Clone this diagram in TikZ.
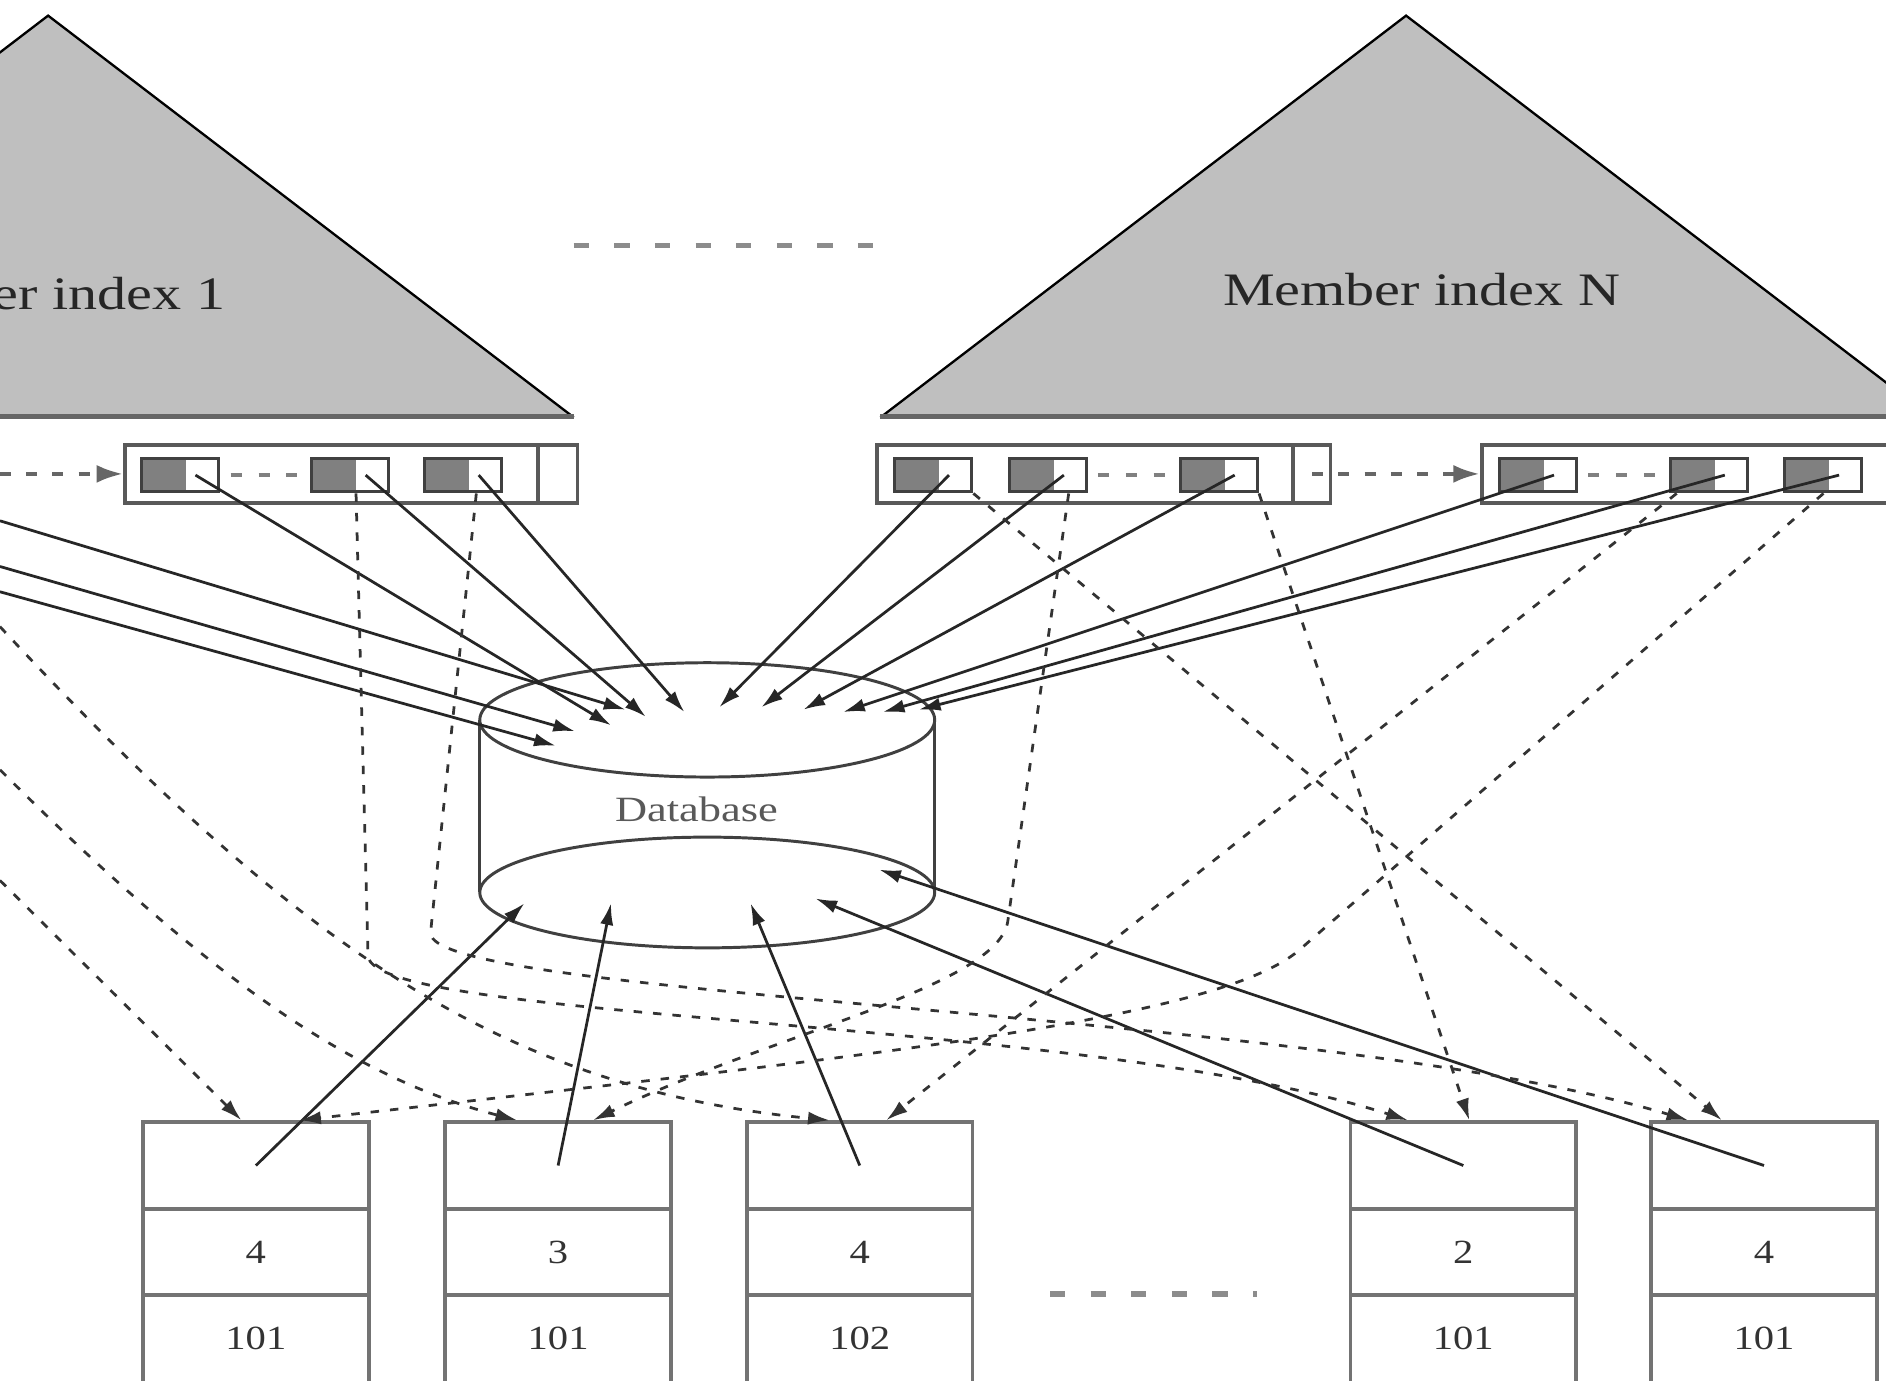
\documentclass[tikz,border=0pt]{standalone}
\usepackage{graphicx}
\usepackage{fontspec}
\setmainfont{Liberation Serif}
\usetikzlibrary{arrows.meta}
\begin{document}
\begin{tikzpicture}[x=0.01cm,y=-0.01cm,
  trifill/.style={fill=black!25},
  triedge/.style={draw=black, line width=0.55pt, line join=miter},
  tribase/.style={draw=black!60, line width=1.1pt},
  sepdash/.style={draw=black!45, line width=1.3pt, dash pattern=on 3.6pt off 6pt},
  bucket/.style={draw=black!65, line width=0.9pt, fill=white, inner sep=0pt, minimum height=0.48cm},
  bucketline/.style={draw=black!65, line width=0.9pt},
  cell/.style={draw=black!75, line width=0.7pt, minimum width=0.64cm, minimum height=0.28cm, inner sep=0pt,
    path picture={\fill[black!50] (path picture bounding box.south west) rectangle ([xshift=-0.27cm]path picture bounding box.north east);}},
  innerdash/.style={draw=black!50, line width=1pt, dash pattern=on 2.6pt off 4pt},
  chain/.style={draw=black!60, line width=1pt, dash pattern=on 2.6pt off 3.6pt, -{Latex[length=2.2mm,width=1.5mm]}},
  rec/.style={draw=black!55, line width=0.9pt, minimum width=1.875cm, minimum height=0.72cm, inner sep=0pt},
  digit/.style={font=\fontsize{8}{9}\selectfont, text=black!80, inner sep=0pt},
  bigtxt/.style={font=\fontsize{11}{13}\selectfont, text=black!85, inner sep=0pt},
  dbtxt/.style={font=\fontsize{8.4}{10}\selectfont, text=black!65, inner sep=0pt},
  dbline/.style={draw=black!75, line width=0.7pt},
  ptr/.style={draw=black!85, line width=0.65pt, -{Latex[length=1.8mm,width=1.1mm]}},
  dptr/.style={draw=black!80, line width=0.65pt, dash pattern=on 2pt off 2.6pt, -{Latex[length=1.8mm,width=1.1mm]}}
]
\useasboundingbox (0,0) rectangle (1568,1148);
\fill[white] (0,0) rectangle (1568,1148);
\begin{scope}
\clip (0,0) rectangle (1568,1148);

% ---------- index triangles ----------
\path[trifill] (-397,347) -- (40,13) -- (477,347) -- cycle;
\draw[triedge] (-397,347) -- (40,13) -- (477,347);
\draw[tribase] (-397,346) -- (477,346);
\path[trifill] (732,347) -- (1169,13) -- (1606,347) -- cycle;
\draw[triedge] (732,347) -- (1169,13) -- (1606,347);
\draw[tribase] (732,346) -- (1606,346);
\node[bigtxt, anchor=east] (mi1) at (188,244) {\scalebox{1.25}[1]{Member index 1}};
\node[bigtxt] (miN) at (1182,241) {\scalebox{1.25}[1]{Member index N}};
\draw[sepdash] (477,204) -- (727,204);

% ---------- leaf buckets ----------
\node[bucket, minimum width=3.76cm] (LB) at (292,394) {};
\draw[bucketline] (447,370) -- (447,418);
\node[bucket, minimum width=3.77cm] (MB) at (917.5,394) {};
\draw[bucketline] (1075,370) -- (1075,418);
\node[bucket, minimum width=3.88cm] (RB) at (1426,394) {};

\foreach \n/\x in {L1/149.5, L2/291, L3/385, M1/776, M2/871.5, M3/1013.5, R1/1279, R2/1421, R3/1516}
  \node[cell] (\n) at (\x,395) {};

\draw[innerdash] ([xshift=0.09cm]L1.east) -- ([xshift=-0.07cm]L2.west);
\draw[innerdash] ([xshift=0.08cm]M2.east) -- ([xshift=-0.07cm]M3.west);
\draw[innerdash] ([xshift=0.08cm]R1.east) -- ([xshift=-0.07cm]R2.west);

\coordinate (inL) at (0,394);
\coordinate (MBnext) at (1091,394);
\draw[chain] (inL) -- (LB.west);
\draw[chain] (MBnext) -- (RB.west);

% ---------- database ----------
\draw[dbline] (399,598.5) -- (399,742);
\draw[dbline] (777,598.5) -- (777,742);
\draw[dbline] (588,598.5) ellipse [x radius=1.89cm, y radius=0.475cm];
\draw[dbline] (588,742) ellipse [x radius=1.89cm, y radius=0.46cm];
\node[dbtxt] (db) at (579,673) {\scalebox{1.25}[1]{Database}};

% ---------- records ----------
\foreach \n/\x/\a/\b in {1/212.75/4/101, 2/464/3/101, 3/714.8/4/102, 4/1216.6/2/101, 5/1466.6/4/101} {
  \node[rec] (B\n a) at (\x,969) {};
  \node[rec] (B\n b) at (\x,1041) {};
  \node[digit] (B\n d) at (\x,1041) {\scalebox{1.2}[1]{\a}};
  \node[rec, minimum height=0.9cm] (B\n c) at (\x,1122) {};
  \node[digit] (B\n t) at (\x,1113) {\scalebox{1.2}[1]{\b}};
}
\draw[sepdash] (873,1076) -- (1045,1076);

% ---------- arrow tips in the database ----------
\coordinate (tO1) at (520,590);
\coordinate (tO2) at (478,608);
\coordinate (tO3) at (462,620);
\coordinate (tL1) at (508,603);
\coordinate (tL2) at (537,596);
\coordinate (tL3) at (569,592);
\coordinate (tM1) at (598,588);
\coordinate (tM2) at (633,588);
\coordinate (tM3) at (668,590);
\coordinate (tR1) at (701,592);
\coordinate (tR2) at (734,592);
\coordinate (tR3) at (764,590);
\coordinate (tb1) at (436,751);
\coordinate (tb2) at (508,751);
\coordinate (tb3) at (624,751);
\coordinate (tb4) at (678,747);
\coordinate (tb5) at (731,723);

\coordinate (oL1) at (0,433);
\coordinate (oL2) at (0,471);
\coordinate (oL3) at (0,492);

% solid pointers to database
\draw[ptr] (oL1) -- (tO1);
\draw[ptr] (oL2) -- (tO2);
\draw[ptr] (oL3) -- (tO3);
\foreach \n in {L1,L2,L3,M1,M2,M3,R1,R2,R3}
  \draw[ptr] ([xshift=0.13cm]\n.center) -- (t\n);
\foreach \k in {1,...,5}
  \draw[ptr] (B\k a.center) -- (tb\k);

% ---------- dashed pointers to records ----------
\coordinate (oP) at (0,521);
\coordinate (oQ) at (0,640);
\coordinate (oR) at (0,732);
\draw[dptr] (oP) .. controls (250,790) and (420,905) .. ([xshift=-0.25cm]B3a.north);
\draw[dptr] (oQ) .. controls (170,810) and (290,895) .. ([xshift=-0.34cm]B2a.north);
\draw[dptr] (oR) -- ([xshift=-0.12cm]B1a.north);
\draw[dptr] ([xshift=0.05cm]L2.south) -- (306,795) .. controls (312,850) and (900,845) .. ([xshift=-0.46cm]B4a.north);
\draw[dptr] ([xshift=0.11cm]L3.south) -- (358,775) .. controls (352,830) and (1100,840) .. ([xshift=-0.63cm]B5a.north);
\draw[dptr] ([xshift=0.17cm]M2.south) -- (838,765) .. controls (832,820) and (640,860) .. ([xshift=0.29cm]B2a.north);
\draw[dptr] (M1.south east) -- ([xshift=-0.35cm]B5a.north);
\draw[dptr] (M3.south east) -- ([xshift=0.05cm]B4a.north);
\draw[dptr] ([xshift=-0.27cm]R2.south) -- ([xshift=0.22cm]B3a.north);
\draw[dptr] (R3.south) -- (1080,790) .. controls (1010,850) and (700,880) .. ([xshift=0.36cm]B1a.north);
\end{scope}
\end{tikzpicture}
\end{document}
